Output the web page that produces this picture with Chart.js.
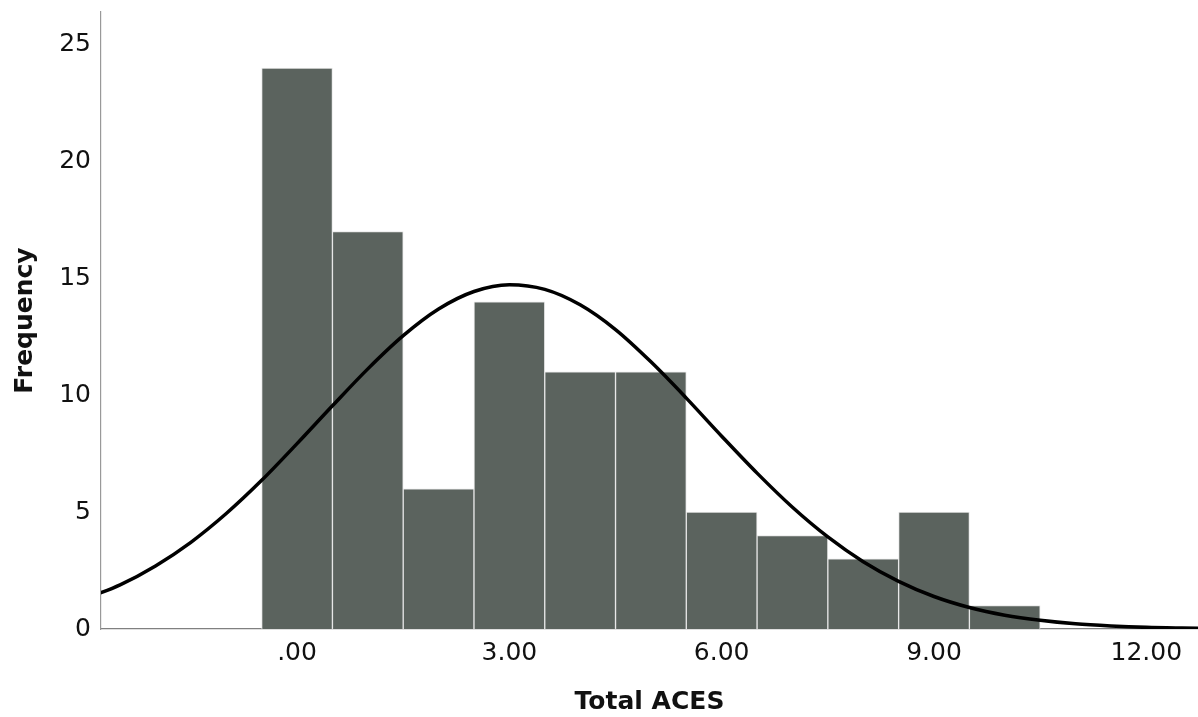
<!DOCTYPE html>
<html>
<head>
<meta charset="utf-8">
<script src="https://cdn.jsdelivr.net/npm/chart.js@4"></script>
<style>
  body { margin: 0; background: #fff; }
  #wrap { width: 1198px; height: 717px; }
</style>
</head>
<body>
<div id="wrap"><canvas id="histChart"></canvas></div>
<script>
// histogram bins (Total ACES) and counts
const binCenters = [0, 1, 2, 3, 4, 5, 6, 7, 8, 9, 10];
const counts = [24, 17, 6, 14, 11, 11, 5, 4, 3, 5, 1];

// normal curve
const curveX = [-3, -2.5, -2, -1.5, -1, -0.5, 0, 0.5, 1, 1.5, 2, 2.5, 3, 3.5, 4, 4.5, 5, 5.5,
  6, 6.5, 7, 7.5, 8, 8.5, 9, 9.5, 10, 10.5, 11, 11.5, 12, 12.5, 13];
const curveY = [1.29, 1.89, 2.7, 3.71, 4.94, 6.36, 7.93, 9.55, 11.13, 12.55, 13.69, 14.44, 14.73, 14.53,
  13.87, 12.81, 11.43, 9.88, 8.25, 6.67, 5.21, 3.94, 2.88, 2.04, 1.39, 0.92, 0.59, 0.37, 0.22, 0.13,
  0.07, 0.04, 0.02];

// axis ticks
const xTickValues = [0, 3, 6, 9, 12];
const xTickLabels = [".00", "3.00", "6.00", "9.00", "12.00"];
const yTickValues = [0, 5, 10, 15, 20, 25];

document.addEventListener("DOMContentLoaded", function () {
  const ctx = document.getElementById("histChart").getContext("2d");
  new Chart(ctx, {
    type: "bar",
    data: {
      datasets: [
        {
          type: "line",
          data: curveX.map((x, i) => ({ x: x, y: curveY[i] })),
          borderColor: "#000",
          borderWidth: 3.5,
          pointRadius: 0,
          cubicInterpolationMode: "monotone",
          fill: false,
          order: 0
        },
        {
          type: "bar",
          data: binCenters.map((x, i) => ({ x: x, y: counts[i] })),
          backgroundColor: "#5b635e",
          borderColor: "#e6e6e6",
          borderWidth: 1,
          barPercentage: 1,
          categoryPercentage: 1,
          order: 1
        }
      ]
    },
    options: {
      responsive: true,
      maintainAspectRatio: false,
      animation: false,
      layout: { padding: { top: 12, left: 0, right: 0, bottom: 0 } },
      plugins: {
        legend: { display: false },
        tooltip: { enabled: false }
      },
      scales: {
        x: {
          type: "linear",
          offset: false,
          min: -2.77,
          max: 12.73,
          grid: { display: false, drawTicks: false, offset: false },
          border: { display: true, color: "#808080", width: 1.2 },
          afterBuildTicks: function (scale) {
            scale.ticks = xTickValues.map(v => ({ value: v }));
          },
          afterFit: function (scale) {
            scale.height = 88;
            scale.paddingLeft = 0;
            scale.paddingRight = 0;
          },
          ticks: {
            padding: 9,
            color: "#111",
            font: { family: "DejaVu Sans", size: 25 },
            callback: function (value) {
              const i = xTickValues.indexOf(value);
              return i >= 0 ? xTickLabels[i] : "";
            }
          },
          title: {
            display: true,
            text: "Total ACES",
            color: "#111",
            padding: 0,
            font: { family: "DejaVu Sans", size: 25, weight: "bold" }
          }
        },
        y: {
          min: 0,
          max: 26.4,
          grid: { display: false, drawTicks: false },
          border: { display: true, color: "#999", width: 1.2 },
          afterBuildTicks: function (scale) {
            scale.ticks = yTickValues.map(v => ({ value: v }));
          },
          afterFit: function (scale) {
            scale.width = 101;
            scale.paddingTop = 0;
            scale.paddingBottom = 0;
          },
          ticks: {
            padding: 10,
            color: "#111",
            font: { family: "DejaVu Sans", size: 25 }
          },
          title: {
            display: true,
            text: "Frequency",
            color: "#111",
            padding: { top: 10, bottom: 0 },
            font: { family: "DejaVu Sans", size: 25, weight: "bold" }
          }
        }
      }
    }
  });
});
</script>
</body>
</html>
